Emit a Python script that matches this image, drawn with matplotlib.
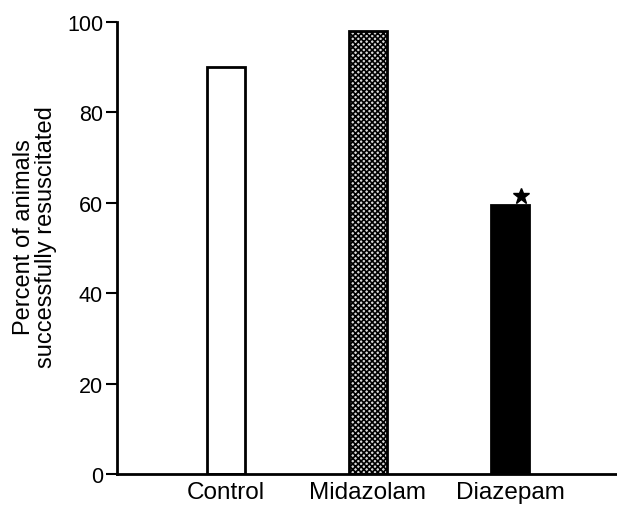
import matplotlib
matplotlib.use("Agg")
import matplotlib.pyplot as plt

groups = ["Control", "Midazolam", "Diazepam"]
percent = [90, 98, 59.5]
yticks = [0, 20, 40, 60, 80, 100]

plt.rcParams["font.family"] = ["Liberation Sans", "DejaVu Sans"]
plt.rcParams["hatch.linewidth"] = 1.2

fig = plt.figure(figsize=(6.17, 5.06), dpi=100)
ax = fig.add_axes([0.1896, 0.0613, 0.8104, 0.8932])

x = list(range(len(groups)))
bars = ax.bar(x, percent, width=0.27, edgecolor="black", linewidth=2,
              color=["white", "#d8d8d8", "black"])
bars[1].set_hatch("xxxxxx")

# significance marker above the diazepam bar
ax.plot(x[2] + 0.08, percent[2] + 1.9, marker="*", color="black",
        markersize=12, clip_on=False)

ax.set_xlim(-0.768, 2.754)
ax.set_ylim(0, 100)
ax.set_yticks(yticks)
ax.set_xticks(x)
ax.set_xticklabels(groups, fontsize=17.5)
ax.tick_params(axis="x", length=0, pad=5)
ax.tick_params(axis="y", length=8, width=1.5, labelsize=15.5, pad=2)
ax.set_ylabel("Percent of animals\nsuccessfully resuscitated", fontsize=17,
              linespacing=1.0)
ax.yaxis.set_label_coords(-0.119, 0.527)

for side in ["top", "right"]:
    ax.spines[side].set_visible(False)
for side in ["left", "bottom"]:
    ax.spines[side].set_linewidth(2)

fig.savefig("out.png", dpi=100)
plt.close(fig)
